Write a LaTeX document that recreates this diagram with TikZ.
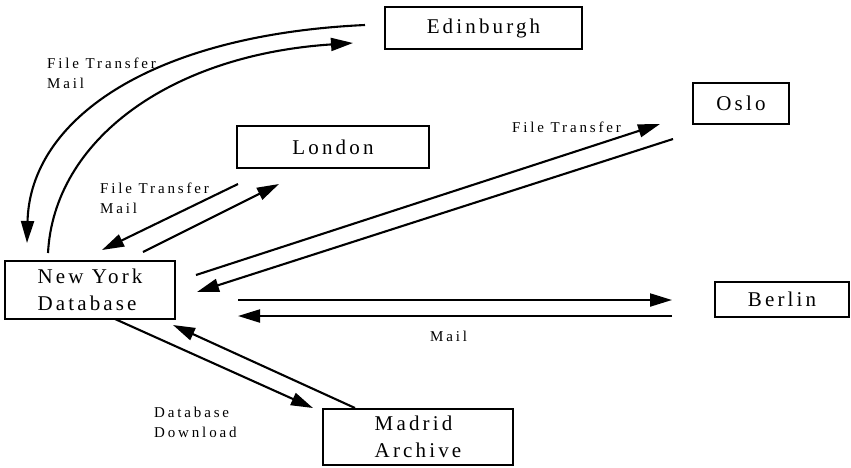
\documentclass[tikz,border=0pt]{standalone}
\usepackage{fontspec}
\setmainfont{Liberation Serif}
\newfontfamily\boxfont[LetterSpace=15]{Liberation Serif}
\newfontfamily\labelfont[LetterSpace=19]{Liberation Serif}
\usetikzlibrary{arrows.meta}
\begin{document}
\begin{tikzpicture}[x=1pt,y=-1pt,
  site/.style={draw, line width=1.9pt, inner sep=0pt, align=left,
    font=\boxfont\fontsize{21}{27}\selectfont},
  note/.style={inner sep=0pt, align=left,
    font=\labelfont\fontsize{15}{20}\selectfont},
  flow/.style={line width=2.1pt, -{Triangle[length=22pt,width=13pt]}}]
\useasboundingbox (0,0) rectangle (851,467);

% sites
\node[site, minimum width=197pt, minimum height=42pt] (edi) at (483.5,28) {Edinburgh};
\node[site, minimum width=192pt, minimum height=42pt] (lon) at (333,147) {London};
\node[site, minimum width=96pt,  minimum height=41pt] (osl) at (741,103.5) {Oslo};
\node[site, minimum width=170pt, minimum height=58pt] (nyc) at (90,290) {New York\\Database};
\node[site, minimum width=134pt, minimum height=35pt] (ber) at (782,299.5) {Berlin};
\node[site, minimum width=190pt, minimum height=56pt] (mad) at (418,437) {Madrid\\Archive};

% end points of the links
\coordinate (e1s) at (365,25);  \coordinate (e1e) at (27,243);
\coordinate (e2s) at (48,253);  \coordinate (e2e) at (353,43);
\coordinate (l1s) at (238,184); \coordinate (l1e) at (102,250);
\coordinate (l2s) at (143,252); \coordinate (l2e) at (279,184);
\coordinate (o1s) at (196,275); \coordinate (o1e) at (660,124);
\coordinate (o2s) at (673,139); \coordinate (o2e) at (197,292);
\coordinate (b1s) at (238,300); \coordinate (b1e) at (672,300);
\coordinate (b2s) at (672,316); \coordinate (b2e) at (238,316);
\coordinate (m1s) at (115,319); \coordinate (m1e) at (313,408);
\coordinate (m2s) at (355,408); \coordinate (m2e) at (173,325);

% links
\draw[flow] (e1s) .. controls (150,35) and (30,120) .. (e1e);
\draw[flow] (e2s) .. controls (54,140) and (170,55) .. (e2e);
\draw[flow] (l1s) -- (l1e);
\draw[flow] (l2s) -- (l2e);
\draw[flow] (o1s) -- (o1e);
\draw[flow] (o2s) -- (o2e);
\draw[flow] (b1s) -- (b1e);
\draw[flow] (b2s) -- (b2e);
\draw[flow] (m1s) -- (m1e);
\draw[flow] (m2s) -- (m2e);

% link labels
\node[note, anchor=north west] (tedi) at (47,57.5) {File Transfer\\Mail};
\node[note, anchor=north west] (tlon) at (100,182.5) {File Transfer\\Mail};
\node[note, anchor=base west] (tosl) at (512,132) {File Transfer};
\node[note, anchor=base west] (tber) at (430,341) {Mail};
\node[note, anchor=north west] (tmad) at (154,406.5) {Database\\Download};
\end{tikzpicture}
\end{document}
